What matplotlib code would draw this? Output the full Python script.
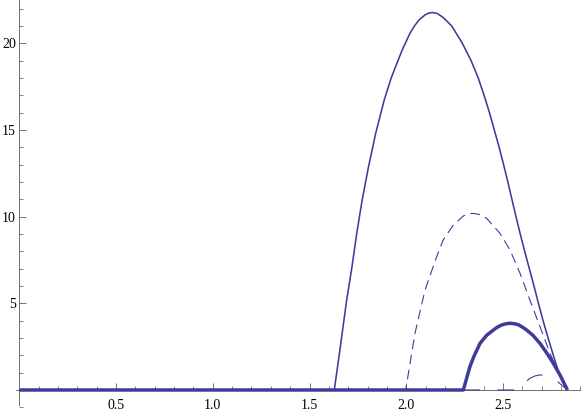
import matplotlib
matplotlib.use("Agg")
import matplotlib.pyplot as plt
from matplotlib.ticker import MultipleLocator, FixedLocator

# ---- data ----
c1_x = [0.0, 1.628, 1.657, 1.692, 1.718, 1.744, 1.772, 1.805, 1.842, 1.886, 1.922, 1.945, 1.979,
        2.019, 2.042, 2.066, 2.097, 2.115, 2.135, 2.160, 2.190, 2.235, 2.290, 2.335, 2.372, 2.402,
        2.430, 2.455, 2.480, 2.503, 2.525, 2.546, 2.567, 2.589, 2.612, 2.636, 2.660, 2.683, 2.707,
        2.733, 2.760, 2.788, 2.833]
c1_y = [0.0, 0.0, 2.31, 5.19, 7.0, 9.04, 10.96, 12.89, 14.81, 16.73, 18.0, 18.66, 19.62,
        20.58, 21.0, 21.35, 21.64, 21.74, 21.78, 21.72, 21.5, 21.0, 20.0, 19.0, 18.0, 17.0,
        16.0, 15.0, 14.0, 13.0, 12.0, 11.0, 10.0, 9.0, 8.0, 7.0, 6.0, 5.0, 4.0,
        3.0, 2.0, 1.0, 0.0]

c2_x = [0.0, 1.997, 2.045, 2.097, 2.157, 2.191, 2.243, 2.295, 2.320, 2.346, 2.380, 2.415, 2.484,
        2.536, 2.588, 2.639, 2.691, 2.743, 2.795, 2.833]
c2_y = [0.0, 0.0, 3.27, 5.77, 7.69, 8.66, 9.52, 10.04, 10.16, 10.19, 10.12, 9.91, 9.04,
        8.08, 6.73, 5.19, 3.65, 2.12, 0.77, 0.0]

c3_x = [0.0, 2.295, 2.310, 2.329, 2.350, 2.381, 2.415, 2.450, 2.470, 2.495, 2.515, 2.536, 2.560,
        2.580, 2.600, 2.622, 2.655, 2.691, 2.725, 2.760, 2.795, 2.833]
c3_y = [0.0, 0.0, 0.60, 1.35, 1.95, 2.69, 3.15, 3.46, 3.62, 3.76, 3.82, 3.85, 3.82,
        3.76, 3.63, 3.46, 3.15, 2.69, 2.15, 1.54, 0.85, 0.0]

c4_x = [2.295, 2.58, 2.61, 2.639, 2.665, 2.691, 2.734, 2.78, 2.833]
c4_y = [0.0, 0.0, 0.40, 0.67, 0.81, 0.87, 0.81, 0.50, 0.0]

x_major = [0.5, 1.0, 1.5, 2.0, 2.5]
x_labels = ["0.5", "1.0", "1.5", "2.0", "2.5"]
y_major = [5, 10, 15, 20]
y_labels = ["5", "10", "15", "20"]

# ---- styling ----
plt.rcParams['lines.scale_dashes'] = False
plt.rcParams['font.family'] = ['Liberation Serif', 'DejaVu Serif']
col = '#3d3d99'
axcol = '#707070'

fig = plt.figure(figsize=(5.81, 4.15), dpi=100)
ax = fig.add_axes([0, 0, 1, 1])
ax.set_xlim(-0.0997, 2.903)
ax.set_ylim(-1.443, 22.50)

ax.plot(c1_x, c1_y, color=col, lw=1.15, solid_capstyle='butt', solid_joinstyle='round', zorder=3)
ax.plot(c2_x, c2_y, color=col, lw=0.8, linestyle=(0, (7.0, 4.0)), zorder=3)
ax.plot(c3_x, c3_y, color=col, lw=2.5, solid_capstyle='butt', solid_joinstyle='round', zorder=4)
ax.plot(c4_x, c4_y, color=col, lw=0.8, linestyle=(0, (12.2, 12.2)), zorder=3)

for s in ['top', 'right']:
    ax.spines[s].set_visible(False)
ax.spines['left'].set_position(('data', 0))
ax.spines['bottom'].set_position(('data', 0))
ax.spines['left'].set_bounds(-0.87, 22.50)
ax.spines['bottom'].set_bounds(-0.016, 2.903)
for s in ['left', 'bottom']:
    ax.spines[s].set_color(axcol)
    ax.spines[s].set_linewidth(0.7)
    ax.spines[s].set_zorder(2)

ax.xaxis.set_major_locator(FixedLocator(x_major))
ax.set_xticklabels(x_labels)
ax.xaxis.set_minor_locator(MultipleLocator(0.1))
ax.yaxis.set_major_locator(FixedLocator(y_major))
ax.set_yticklabels(y_labels)
ax.yaxis.set_minor_locator(MultipleLocator(1))

ax.tick_params(axis='x', which='major', direction='in', length=5, width=0.7, color=axcol,
               labelsize=10, pad=6.5, labelcolor='black')
ax.tick_params(axis='x', which='minor', direction='in', length=3, width=0.6, color=axcol)
ax.tick_params(axis='y', which='major', direction='in', length=5, width=0.7, color=axcol,
               labelsize=10, pad=2.5, labelcolor='black')
ax.tick_params(axis='y', which='minor', direction='in', length=3, width=0.6, color=axcol)

ax.patch.set_visible(False)
fig.savefig('out.png', dpi=100)
